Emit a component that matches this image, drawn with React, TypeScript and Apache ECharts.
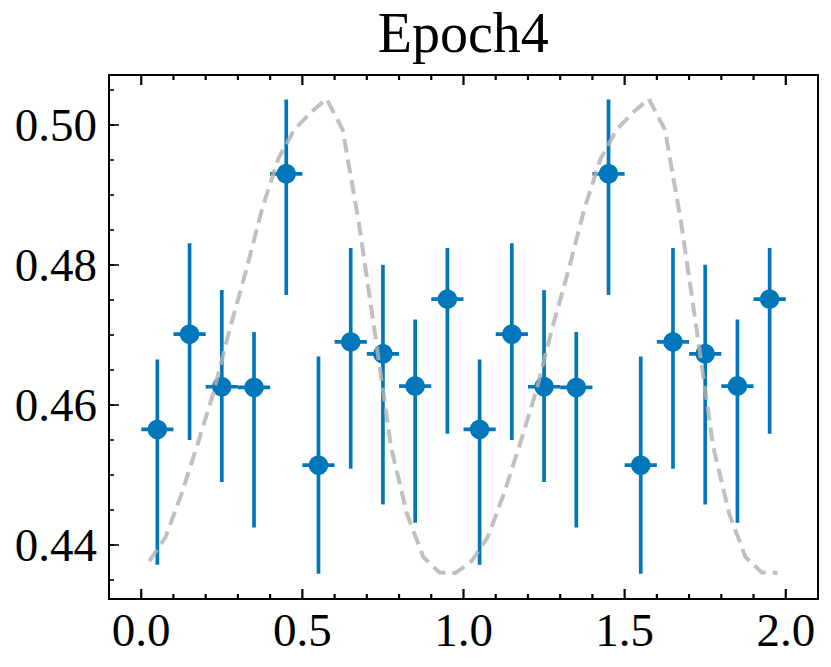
import React, { useEffect, useRef } from "react";
import * as echarts from "echarts";

// ---- data ----
const POINT_X = [0.05, 0.15, 0.25, 0.35, 0.45, 0.55, 0.65, 0.75, 0.85, 0.95, 1.05, 1.15, 1.25, 1.35, 1.45, 1.55, 1.65, 1.75, 1.85, 1.95];
const POINT_Y = [0.4565, 0.4701, 0.4626, 0.4625, 0.4930, 0.4514, 0.4690, 0.4673, 0.4627, 0.4751, 0.4565, 0.4701, 0.4626, 0.4625, 0.4930, 0.4514, 0.4690, 0.4673, 0.4627, 0.4751];
const POINT_LO = [0.4372, 0.4550, 0.4490, 0.4425, 0.4757, 0.4359, 0.4509, 0.4458, 0.4432, 0.4559, 0.4372, 0.4550, 0.4490, 0.4425, 0.4757, 0.4359, 0.4509, 0.4458, 0.4432, 0.4559];
const POINT_HI = [0.4665, 0.4831, 0.4764, 0.4704, 0.5036, 0.4669, 0.4824, 0.4800, 0.4722, 0.4824, 0.4665, 0.4831, 0.4764, 0.4704, 0.5036, 0.4669, 0.4824, 0.4800, 0.4722, 0.4824];
const X_ERR = 0.05;

const CURVE_X = [0.025, 0.075, 0.125, 0.175, 0.225, 0.275, 0.325, 0.375, 0.425, 0.475, 0.525, 0.575, 0.625, 0.675, 0.725, 0.775, 0.825, 0.875, 0.925, 0.975,
  1.025, 1.075, 1.125, 1.175, 1.225, 1.275, 1.325, 1.375, 1.425, 1.475, 1.525, 1.575, 1.625, 1.675, 1.725, 1.775, 1.825, 1.875, 1.925, 1.975];
const CURVE_Y = [0.4377, 0.4411, 0.4473, 0.4544, 0.4619, 0.4709, 0.4791, 0.4880, 0.4951, 0.4993, 0.5017, 0.5037, 0.4993, 0.4861, 0.4703, 0.4540, 0.4444, 0.4383, 0.4361, 0.4360,
  0.4377, 0.4411, 0.4473, 0.4544, 0.4619, 0.4709, 0.4791, 0.4880, 0.4951, 0.4993, 0.5017, 0.5037, 0.4993, 0.4861, 0.4703, 0.4540, 0.4444, 0.4383, 0.4361, 0.4360];

const X_MAJOR = [0, 0.5, 1.0, 1.5, 2.0];
const X_MINOR = [0, 0.1, 0.2, 0.3, 0.4, 0.5, 0.6, 0.7, 0.8, 0.9, 1.0, 1.1, 1.2, 1.3, 1.4, 1.5, 1.6, 1.7, 1.8, 1.9, 2.0];
const Y_MAJOR = [0.44, 0.46, 0.48, 0.5];
const Y_MINOR = [0.435, 0.44, 0.445, 0.45, 0.455, 0.46, 0.465, 0.47, 0.475, 0.48, 0.485, 0.49, 0.495, 0.5, 0.505];
const X_MIN = -0.1, X_MAX = 2.1;
const Y_MIN = 0.4323, Y_MAX = 0.5071;
const TITLE = "Epoch4";

const BLUE = "#0077BB";
const FONT = '"Liberation Serif", "Times New Roman", serif';

export default function App() {
  const ref = useRef<HTMLDivElement>(null);

  useEffect(() => {
    if (!ref.current) return;
    const chart = echarts.init(ref.current, undefined, { renderer: "svg" });

    const tickStyle = () => ({ color: "#000", width: 1.6 });

    const yAxis = (values: number[], len: number, labels: boolean) => ({
      type: "value",
      gridIndex: 0,
      min: Y_MIN,
      max: Y_MAX,
      position: "left",
      axisLine: { show: false, onZero: false },
      splitLine: { show: false },
      axisTick: { show: true, inside: true, length: len, customValues: values, lineStyle: tickStyle() },
      axisLabel: labels
        ? {
            show: true,
            customValues: Y_MAJOR,
            formatter: (v: number) => v.toFixed(2),
            fontFamily: FONT,
            fontSize: 47,
            color: "#000",
            margin: 12,
          }
        : { show: false },
    });

    const errData = POINT_X.map((x, i) => [x, POINT_Y[i], POINT_LO[i], POINT_HI[i]]);
    const xTickData = X_MINOR.map((v) => [v, Y_MIN]);

    const titleGraphic = {
      type: "text",
      id: "title",
      x: 463.3,
      y: 33,
      z: 10,
      style: {
        text: TITLE,
        fontFamily: FONT,
        fontSize: 56,
        fill: "#000",
        textAlign: "center",
        textVerticalAlign: "middle",
        align: "center",
        verticalAlign: "middle",
      },
    };

    chart.setOption({
      animation: false,
      grid: { left: 109, right: 13, top: 75, bottom: 68, show: true, borderColor: "#000", borderWidth: 2 },
      graphic: [titleGraphic],
      xAxis: [
        {
          type: "value",
          gridIndex: 0,
          min: X_MIN,
          max: X_MAX,
          position: "bottom",
          axisLine: { show: false, onZero: false },
          splitLine: { show: false },
          axisTick: { show: false },
          axisLabel: {
            show: true,
            customValues: X_MAJOR,
            formatter: (v: number) => v.toFixed(1),
            fontFamily: FONT,
            fontSize: 47,
            lineHeight: 47,
            color: "#000",
            margin: 7,
          },
        },
      ],
      yAxis: [yAxis(Y_MAJOR, 10, true), yAxis(Y_MINOR, 5, false)],
      series: [
        {
          // x ticks on bottom and top spines, drawn as small filled bars through the x scale
          type: "custom",
          xAxisIndex: 0,
          yAxisIndex: 0,
          z: 5,
          silent: true,
          clip: false,
          data: xTickData,
          encode: { x: 0, y: 1 },
          renderItem: (params: any, api: any) => {
            const v = api.value(0);
            const len = X_MAJOR.some((m) => Math.abs(m - v) < 1e-9) ? 10 : 5;
            const pb = api.coord([v, Y_MIN]);
            const pt = api.coord([v, Y_MAX]);
            const w = 2.2;
            return {
              type: "group",
              children: [
                { type: "rect", shape: { x: pb[0] - w / 2, y: pb[1] - len, width: w, height: len }, style: { fill: "#000" } },
                { type: "rect", shape: { x: pt[0] - w / 2, y: pt[1], width: w, height: len }, style: { fill: "#000" } },
              ],
            };
          },
        },
        {
          type: "custom",
          xAxisIndex: 0,
          yAxisIndex: 0,
          z: 2,
          data: errData,
          encode: { x: 0, y: [1, 2, 3] },
          renderItem: (params: any, api: any) => {
            const x = api.value(0);
            const y = api.value(1);
            const lo = api.value(2);
            const hi = api.value(3);
            const pLo = api.coord([x, lo]);
            const pHi = api.coord([x, hi]);
            const pL = api.coord([x - X_ERR, y]);
            const pR = api.coord([x + X_ERR, y]);
            return {
              type: "group",
              children: [
                {
                  type: "line",
                  shape: { x1: pLo[0], y1: pLo[1], x2: pHi[0], y2: pHi[1] },
                  style: { stroke: BLUE, lineWidth: 3.7 },
                },
                {
                  type: "line",
                  shape: { x1: pL[0], y1: pL[1], x2: pR[0], y2: pR[1] },
                  style: { stroke: BLUE, lineWidth: 3.7 },
                },
              ],
            };
          },
        },
        {
          type: "scatter",
          xAxisIndex: 0,
          yAxisIndex: 0,
          z: 3,
          symbol: "circle",
          symbolSize: 19.5,
          itemStyle: { color: BLUE, opacity: 1 },
          data: POINT_X.map((x, i) => [x, POINT_Y[i]]),
        },
        {
          type: "line",
          xAxisIndex: 0,
          yAxisIndex: 0,
          z: 4,
          symbol: "none",
          smooth: false,
          lineStyle: { color: "rgba(178,178,178,0.82)", width: 4, type: [14, 7] },
          data: CURVE_X.map((x, i) => [x, CURVE_Y[i]]),
        },
      ],
    });

    return () => chart.dispose();
  }, []);

  return (
    <div
      ref={ref}
      style={{ position: "absolute", left: 0, top: 0, width: 831, height: 667, background: "#fff" }}
    />
  );
}
